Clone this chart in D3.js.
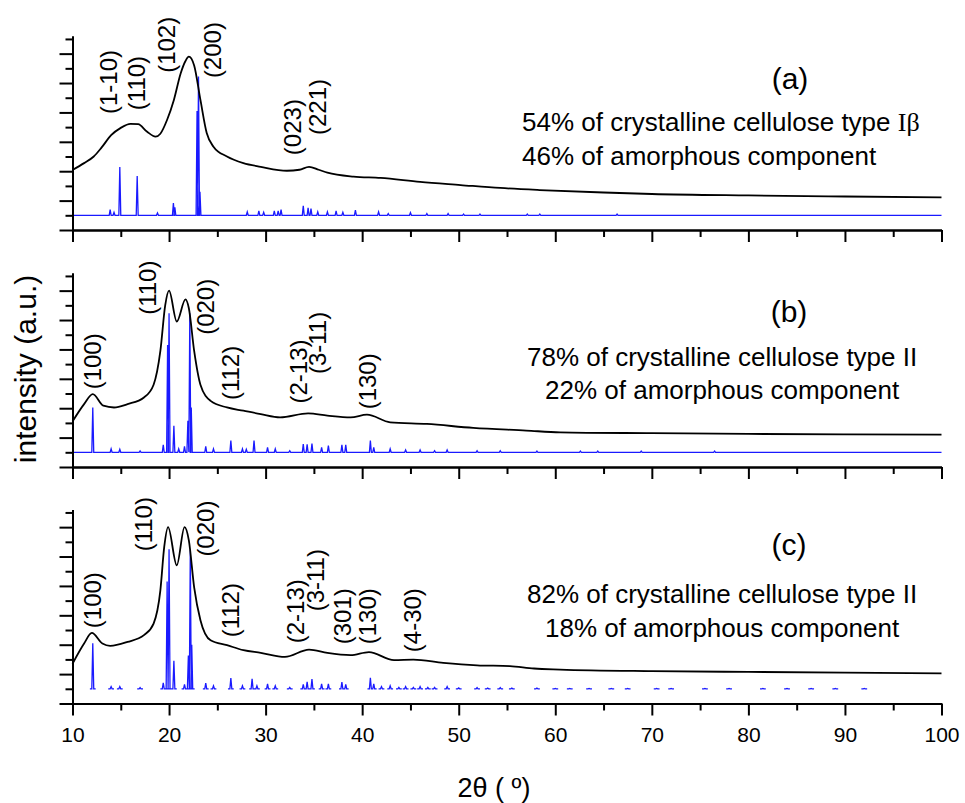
<!DOCTYPE html>
<html>
<head>
<meta charset="utf-8">
<script src="https://d3js.org/d3.v7.min.js"></script>
<style>
  body { margin: 0; background: #fff; }
  text { font-family: "Liberation Sans", Arial, sans-serif; fill: #000; }
</style>
</head>
<body>
<div id="chart"></div>
<script>
const width = 965;
const height = 803;

// x axis: 2theta (deg)
const angleMajor = [10, 20, 30, 40, 50, 60, 70, 80, 90, 100];
const angleMinor = [15, 25, 35, 45, 55, 65, 75, 85, 95];
const intensityMajor = [0, 2, 4, 6, 8, 10, 12];
const intensityMinor = [1, 3, 5, 7, 9, 11, 13];

// measured patterns [2theta, intensity a.u.]
const measuredA = [[10, 4.08], [11.2, 4.55], [12.2, 5.0], [13, 5.6], [14, 6.45], [15, 6.95], [16, 7.22],
    [16.8, 7.2], [17.7, 6.7], [18.6, 6.35], [19.1, 6.55], [19.8, 7.5], [20.5, 8.85], [21.2, 10.65],
    [21.7, 11.5], [22.05, 11.8], [22.6, 11.2], [23.25, 8.85], [23.9, 6.6], [24.6, 5.67], [26, 5.0],
    [27.7, 4.55], [29.5, 4.3], [32.2, 4.03], [33.5, 4.1], [34.5, 4.3], [35.5, 4.1], [36.4, 3.9],
    [39.1, 3.63], [41.9, 3.54], [46, 3.27], [50.2, 3.06], [54.3, 2.86], [58.4, 2.72], [65, 2.55],
    [70, 2.45], [80, 2.35], [90, 2.28], [100, 2.22]];
const measuredB = [[10, 3.1], [11.2, 4.28], [12.1, 4.96], [13.2, 4.17], [14.3, 4.05], [15.7, 4.28], [17.4, 4.73],
    [18.4, 5.6], [19.1, 7.9], [19.6, 11.0], [20.0, 12.0], [20.8, 9.9], [21.7, 11.4], [22.05, 10.8],
    [22.6, 7.9], [23.25, 5.6], [24.3, 4.5], [26, 4.05], [27.7, 3.83], [29.5, 3.6], [31.5, 3.38],
    [34.4, 3.65], [36.4, 3.5], [38.8, 3.38], [40.5, 3.56], [42.9, 3.04], [46.7, 2.93], [51.5, 2.66],
    [57, 2.48], [60.5, 2.36], [70, 2.3], [80, 2.25], [90, 2.22], [100, 2.2]];
const measuredC = [[10, 2.7], [11.2, 4.08], [12.0, 4.8], [13.1, 4.08], [13.9, 3.92], [15.7, 4.19], [17.4, 4.65],
    [18.4, 5.44], [19.1, 7.7], [19.5, 10.65], [19.9, 12.0], [20.8, 9.4], [21.6, 12.0], [22.05, 11.1],
    [22.6, 7.9], [23.25, 5.67], [24.3, 4.3], [26, 3.97], [27.7, 3.63], [29.5, 3.45], [32, 3.17],
    [34.5, 3.67], [36.4, 3.44], [38.8, 3.29], [40.7, 3.5], [43.3, 2.95], [45.3, 2.99], [48.4, 2.77],
    [51.9, 2.6], [55.3, 2.54], [57.8, 2.38], [60.5, 2.31], [70, 2.2], [80, 2.15], [90, 2.1], [100, 2.05]];

// calculated reflections [2theta, height above the baseline]
const calcA = [[13.9, 0.38], [14.3, 0.2], [14.9, 3.29], [16.7, 2.68], [18.8, 0.16], [20.45, 0.84], [20.6, 0.55],
    [22.9, 7.1], [23.05, 9.45], [23.2, 1.6], [28.1, 0.23], [29.3, 0.3], [29.8, 0.2], [30.9, 0.3], [31.3, 0.3],
    [31.6, 0.38], [33.9, 0.65], [34.4, 0.5], [34.7, 0.45], [35.4, 0.23], [36.4, 0.23], [37.3, 0.3],
    [38.0, 0.2], [39.3, 0.35], [41.7, 0.23], [42.7, 0.12], [45.0, 0.18], [46.7, 0.12], [48.9, 0.12],
    [50.5, 0.08], [52.2, 0.08], [57.1, 0.08], [58.4, 0.08], [66.4, 0.08]];
const calcB = [[12.1, 3.04], [14.0, 0.23], [14.9, 0.2], [17.0, 0.1], [19.4, 0.5], [19.85, 7.3], [20.0, 9.46],
    [20.5, 1.8], [21.0, 0.23], [21.6, 0.4], [21.95, 2.14], [22.15, 9.46], [22.3, 3.04], [23.8, 0.4],
    [24.6, 0.23], [26.4, 0.8], [27.6, 0.23], [28.0, 0.2], [28.8, 0.8], [30.2, 0.33], [31.0, 0.23],
    [32.5, 0.11], [33.9, 0.56], [34.3, 0.55], [34.8, 0.6], [35.8, 0.34], [36.5, 0.45], [37.9, 0.5],
    [38.3, 0.5], [40.85, 0.8], [41.2, 0.34], [42.9, 0.23], [44.5, 0.16], [46.0, 0.16], [47.5, 0.11],
    [48.8, 0.16], [51.9, 0.11], [54.3, 0.11], [58.1, 0.08], [62.6, 0.08], [64.4, 0.08], [68.9, 0.08], [76.5, 0.08]];
const calcC = [[12.1, 3.1], [14.0, 0.15], [14.9, 0.15], [17.0, 0.08], [19.4, 0.4], [19.8, 7.3], [20.0, 9.5],
    [20.5, 1.9], [21.6, 0.3], [22.0, 2.27], [22.2, 9.46], [22.35, 3.0], [23.8, 0.39], [24.6, 0.2],
    [26.4, 0.73], [27.6, 0.2], [28.6, 0.68], [29.1, 0.2], [30.2, 0.34], [31.0, 0.2], [32.5, 0.1],
    [33.9, 0.3], [34.3, 0.48], [34.8, 0.66], [35.8, 0.34], [36.5, 0.34], [37.9, 0.45], [38.3, 0.3],
    [40.85, 0.75], [41.2, 0.34], [42.0, 0.15], [42.9, 0.2], [43.8, 0.1], [44.5, 0.15], [45.3, 0.1],
    [46.0, 0.15], [46.8, 0.1], [47.5, 0.1], [48.8, 0.15], [50.0, 0.06], [51.9, 0.08], [53.0, 0.05],
    [54.3, 0.08], [55.5, 0.05], [58.1, 0.05], [60.0, 0.03], [61.5, 0.03], [63.5, 0.03], [65.8, 0.03],
    [67.5, 0.03], [70.5, 0.03], [72.0, 0.03], [75.5, 0.03], [78.0, 0.03], [81.5, 0.03], [84.0, 0.03],
    [86.5, 0.03], [89.0, 0.03], [92.0, 0.03]];

// Miller index labels [text, 2theta, intensity of label centre]
const hklA = [["(1-10)", 13.9, 10.07], ["(110)", 16.8, 10.0], ["(102)", 19.9, 12.6], ["(200)", 24.6, 12.24],
    ["(023)", 32.9, 7.0], ["(221)", 35.5, 8.37]];
const hklB = [["(100)", 12.2, 7.19], ["(110)", 17.9, 12.2], ["(020)", 23.9, 10.9], ["(112)", 26.5, 6.4],
    ["(2-13)", 33.5, 6.5], ["(3-11)", 35.5, 8.44], ["(130)", 40.7, 5.83]];
const hklC = [["(100)", 12.2, 7.03], ["(110)", 17.45, 12.2], ["(020)", 23.9, 11.9], ["(112)", 26.5, 6.35],
    ["(2-13)", 33.2, 6.28], ["(3-11)", 35.3, 8.39], ["(301)", 38.05, 5.94], ["(130)", 40.7, 5.94],
    ["(4-30)", 45.3, 5.67]];

const panelNames = ["(a)", "(b)", "(c)"];
const crystalText = ["54% of crystalline cellulose type ", "78% of crystalline cellulose type II", "82% of crystalline cellulose type II"];
const amorphText = ["46% of amorphous component", "22% of amorphous component", "18% of amorphous component"];

const panels = [
    { measured: measuredA, calc: calcA, hkl: hklA, bottom: 230, continuous: true,
      name: [790, 89], line1: [522, 131], line2: [522, 165] },
    { measured: measuredB, calc: calcB, hkl: hklB, bottom: 467, continuous: true,
      name: [789, 322], line1: [527, 366], line2: [545, 399] },
    { measured: measuredC, calc: calcC, hkl: hklC, bottom: 703.5, continuous: false,
      name: [789, 555], line1: [527, 603], line2: [545, 637] }
];

const panelH = 194;
const baseLevel = 1; // calculated pattern baseline
const blue = "#1a1aff";

const svg = d3.select("#chart")
    .append("svg")
    .attr("width", width)
    .attr("height", height)
    .attr("viewBox", [0, 0, width, height]);

const x = d3.scaleLinear().domain([10, 100]).range([72.5, 941.5]);

function stickPoints(peaks, w) {
    const pts = [];
    peaks.slice().sort((a, b) => a[0] - b[0]).forEach(([p, h]) => {
        pts.push([p - w, 0], [p, h], [p + w, 0]);
    });
    return pts;
}

panels.forEach((pn, i) => {
    const y = d3.scaleLinear().domain([0, 13.2]).range([pn.bottom, pn.bottom - panelH]);
    const g = svg.append("g");

    // calculated pattern (blue)
    const lineC = d3.line().x(d => x(d[0])).y(d => y(baseLevel + d[1]));
    if (pn.continuous) {
        const pts = [[10, 0]].concat(stickPoints(pn.calc, 0.1), [[100, 0]]);
        g.append("path").attr("d", lineC(pts))
            .attr("fill", "none").attr("stroke", blue).attr("stroke-width", 1.3);
    } else {
        g.append("path")
            .attr("d", pn.calc.map(([p, h]) => lineC([[p - 0.3, 0], [p - 0.1, 0], [p, h], [p + 0.1, 0], [p + 0.3, 0]])).join(""))
            .attr("fill", "none").attr("stroke", blue).attr("stroke-width", 1.3);
    }

    // measured pattern (black)
    const lineM = d3.line().x(d => x(d[0])).y(d => y(d[1])).curve(d3.curveMonotoneX);
    g.append("path").attr("d", lineM(pn.measured))
        .attr("fill", "none").attr("stroke", "#000").attr("stroke-width", 1.8);

    // axes
    const last = i === panels.length - 1;
    const xMajor = d3.axisBottom(x).tickValues(angleMajor).tickSize(12).tickSizeOuter(0).tickPadding(12)
        .tickFormat(last ? d3.format("d") : "");
    const xMinor = d3.axisBottom(x).tickValues(angleMinor).tickSize(7).tickSizeOuter(0).tickFormat("");
    const yMajor = d3.axisLeft(y).tickValues(intensityMajor).tickSize(13).tickSizeOuter(0).tickFormat("");
    const yMinor = d3.axisLeft(y).tickValues(intensityMinor).tickSize(7).tickSizeOuter(0).tickFormat("");

    [xMajor, xMinor].forEach(ax => {
        g.append("g").attr("transform", `translate(0,${pn.bottom})`).call(ax);
    });
    [yMajor, yMinor].forEach(ax => {
        g.append("g").attr("transform", `translate(${x(10)},0)`).call(ax);
    });

    // hkl labels
    g.selectAll(".hkl")
        .data(pn.hkl)
        .join("text")
        .attr("class", "hkl")
        .attr("transform", d => `translate(${x(d[1])},${y(d[2])}) rotate(-90)`)
        .attr("text-anchor", "middle")
        .attr("dy", "0.3em")
        .style("font-size", "24px")
        .text(d => d[0]);

    // panel name and composition
    g.append("text").attr("x", pn.name[0]).attr("y", pn.name[1])
        .attr("text-anchor", "middle").style("font-size", "30px").text(panelNames[i]);
    const t1 = g.append("text").attr("x", pn.line1[0]).attr("y", pn.line1[1])
        .style("font-size", "26px").text(crystalText[i]);
    if (i === 0) t1.append("tspan").style("font-family", "'Liberation Serif', serif").text("Iβ");
    g.append("text").attr("x", pn.line2[0]).attr("y", pn.line2[1])
        .style("font-size", "26px").text(amorphText[i]);
});

svg.selectAll(".domain").attr("stroke", "#000").attr("stroke-width", 2);
svg.selectAll(".tick line").attr("stroke", "#000").attr("stroke-width", 2);
svg.selectAll(".tick text").style("font-size", "21px").attr("fill", "#000");

// axis titles
svg.append("text")
    .attr("transform", "translate(36,369) rotate(-90)")
    .attr("text-anchor", "middle")
    .style("font-size", "30px")
    .text("intensity (a.u.)");

svg.append("text")
    .attr("x", 494)
    .attr("y", 797)
    .attr("text-anchor", "middle")
    .style("font-size", "27px")
    .text("2θ ( º)");
</script>
</body>
</html>
